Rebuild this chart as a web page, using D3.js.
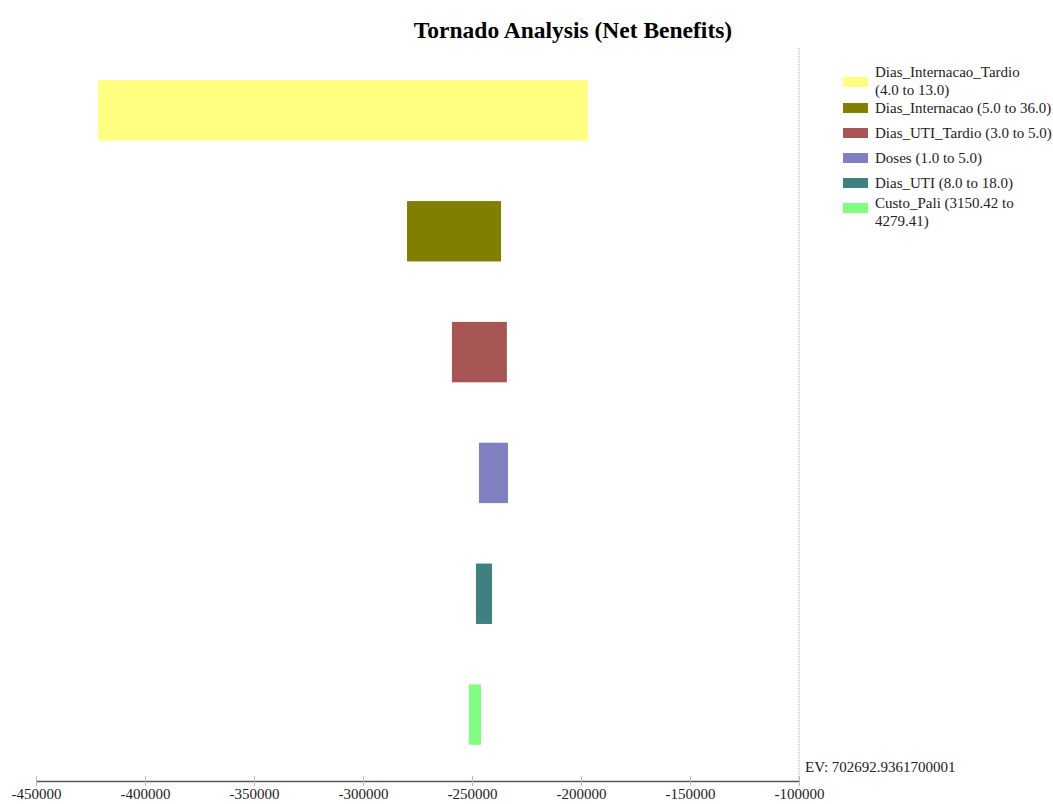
<!DOCTYPE html>
<html>
<head>
<meta charset="utf-8">
<script src="https://cdn.jsdelivr.net/npm/d3@7"></script>
<style>
	body { margin: 0; background: #fff; }
	text { font-family: "Liberation Serif", "DejaVu Serif", serif; }
</style>
</head>
<body>
<div id="chart"></div>
<script>
// variables, sorted by swing
var names = ['Dias_Internacao_Tardio', 'Dias_Internacao', 'Dias_UTI_Tardio', 'Doses', 'Dias_UTI', 'Custo_Pali']
var ranges = ['(4.0 to 13.0)', '(5.0 to 36.0)', '(3.0 to 5.0)', '(1.0 to 5.0)', '(8.0 to 18.0)', '(3150.42 to 4279.41)']
var lowVals = [-421500, -279800, -259200, -246800, -248200, -251400]
var highVals = [-196800, -236700, -234000, -233500, -240800, -245900]
var ticks = [-450000, -400000, -350000, -300000, -250000, -200000, -150000, -100000]
var ev = '702692.9361700001'

var color = ['#FFFF80', '#808000', '#A85555', '#8080C0', '#408080', '#80FF80']

var width = 1053
var height = 804

var svg = d3.select('#chart')
			.append('svg')
				.attr('width', width)
				.attr('height', height)

var x = d3.scaleLinear()
	.domain([-450000, -100000])
	.range([36, 799])

var y = d3.scaleBand()
	.domain(names)
	.range([50, 775])
	.paddingInner(0.5)
	.paddingOuter(0.25)

svg.append('text')
	.attr('x', 573)
	.attr('y', 38)
	.attr('text-anchor', 'middle')
	.style('font-size', '23.5px')
	.style('font-weight', 'bold')
	.text('Tornado Analysis (Net Benefits)')

// bars
svg.selectAll('rect.bar')
	.data(names)
	.enter().append('rect')
		.attr('class', 'bar')
		.attr('x', function(d, i) { return x(Math.min(lowVals[i], highVals[i])) })
		.attr('width', function(d, i) { return Math.abs(x(highVals[i]) - x(lowVals[i])) })
		.attr('y', function(d) { return y(d) })
		.attr('height', y.bandwidth())
		.attr('fill', function(d, i) { return color[i] })

// base line at the right
svg.append('line')
	.attr('x1', x(-100000)).attr('x2', x(-100000))
	.attr('y1', 48).attr('y2', 782)
	.attr('stroke', '#aaa')
	.attr('stroke-width', 1)
	.attr('stroke-dasharray', '1,1')

svg.append('text')
	.attr('x', 805)
	.attr('y', 772)
	.style('font-size', '15px')
	.style('fill', '#222')
	.text('EV: ' + ev)

// axis
var axis = svg.append('g')
	.attr('transform', 'translate(0,781)')
	.call(d3.axisBottom(x).tickValues(ticks).tickSizeOuter(0).tickFormat(function(d) { return String(d) }))

axis.select('.domain').attr('stroke', '#555').attr('stroke-width', 1.5)
axis.selectAll('.tick line').attr('y1', -5).attr('y2', 5).attr('stroke', '#bbb')
axis.selectAll('.tick text')
	.attr('y', 7)
	.style('font-family', '"Liberation Serif", serif')
	.style('font-size', '15px')
	.style('fill', '#222')

// legend
var legend = svg.append('g')

var legendY = [77, 103, 128, 153, 178, 203]

names.forEach(function(n, i) {
	legend.append('rect')
		.attr('x', 843)
		.attr('y', legendY[i])
		.attr('width', 25)
		.attr('height', 10)
		.attr('fill', color[i])
})

var lines = [
	[names[0], ranges[0]],
	[names[1] + ' ' + ranges[1]],
	[names[2] + ' ' + ranges[2]],
	[names[3] + ' ' + ranges[3]],
	[names[4] + ' ' + ranges[4]],
	[names[5] + ' ' + ranges[5].split(' ').slice(0, 2).join(' '), ranges[5].split(' ').slice(2).join(' ')]
]
var textY = [77, 113, 138, 163, 188, 208]

lines.forEach(function(l, i) {
	var t = legend.append('text')
		.attr('x', 875)
		.attr('y', textY[i])
		.style('font-size', '15px')
		.style('fill', '#222')
	l.forEach(function(s, j) {
		t.append('tspan')
			.attr('x', 875)
			.attr('dy', j == 0 ? 0 : 18)
			.text(s)
	})
})
</script>
</body>
</html>
